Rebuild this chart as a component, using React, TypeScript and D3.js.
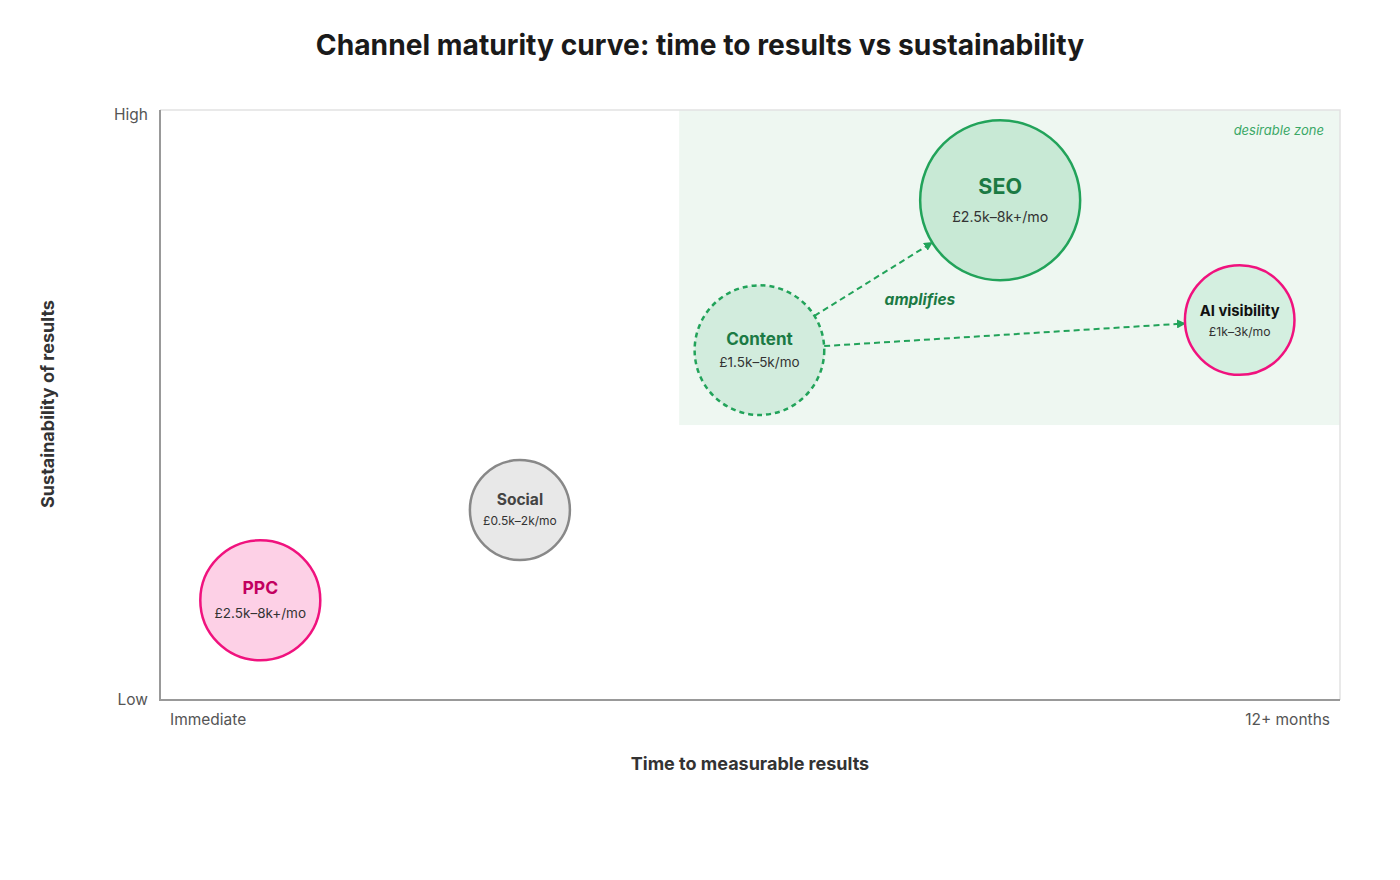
import React, { useEffect, useRef } from 'react';
import * as d3 from 'd3';

const channels = ['PPC', 'Social', 'Content', 'SEO', 'AI visibility'];
const timeToResults = [8.5, 30.5, 50.8, 71.2, 91.5];
const sustainability = [16.9, 32.2, 59.3, 84.7, 64.4];
const bubbleSize = [36, 25, 42, 64, 30];
const budgets = ['£2.5k–8k+/mo', '£0.5k–2k/mo', '£1.5k–5k/mo', '£2.5k–8k+/mo', '£1k–3k/mo'];
const links = [['Content', 'SEO'], ['Content', 'AI visibility']];
const zoneX = [44, 100];
const zoneY = [46.6, 100];
const xTickLabels = ['Immediate', '12+ months'];
const yTickLabels = ['Low', 'High'];

const FONT = 'Inter, "Open Sans", sans-serif';

// per-channel look
const styles: Record<string, any> = {
  PPC: { fill: '#fdd0e6', stroke: '#f0127e', dash: null, title: '#c2005f', tSize: 17.5, sSize: 13.5, tDy: -11, sDy: 14 },
  Social: { fill: '#e8e8e8', stroke: '#888888', dash: null, title: '#444444', tSize: 15.6, sSize: 12, tDy: -9, sDy: 12 },
  Content: { fill: '#d2ecdd', stroke: '#22a35a', dash: '5,4', title: '#1b7a44', tSize: 17, sSize: 13.5, tDy: -10, sDy: 13 },
  SEO: { fill: '#c8e9d5', stroke: '#22a35a', dash: null, title: '#1b7a44', tSize: 21.5, sSize: 14.2, tDy: -12, sDy: 18 },
  'AI visibility': { fill: '#d4efe0', stroke: '#f0127e', dash: null, title: '#111111', tSize: 14.8, sSize: 12.2, tDy: -8, sDy: 13 },
};

export default function App() {
  const svgRef = useRef<SVGSVGElement>(null);

  useEffect(() => {
    if (!svgRef.current) return;
    const width = 1400;
    const height = 880;
    const margin = { top: 110, right: 60, bottom: 180, left: 160 };
    const iw = width - margin.left - margin.right;
    const ih = height - margin.top - margin.bottom;

    const root = d3.select(svgRef.current);
    root.selectAll('*').remove();
    root.attr('width', width).attr('height', height);

    root.append('rect').attr('width', width).attr('height', height).attr('fill', '#ffffff');

    root.append('text')
      .attr('x', 700).attr('y', 47)
      .attr('text-anchor', 'middle').attr('dominant-baseline', 'middle')
      .style('font-family', FONT).style('font-weight', 700).style('font-size', '28.2px')
      .style('fill', '#1a1a1a')
      .text('Channel maturity curve: time to results vs sustainability');

    const defs = root.append('defs');
    defs.append('marker')
      .attr('id', 'arrow')
      .attr('viewBox', '0 0 10 10')
      .attr('refX', 9).attr('refY', 5)
      .attr('markerWidth', 9).attr('markerHeight', 9)
      .attr('markerUnits', 'userSpaceOnUse')
      .attr('orient', 'auto')
      .append('path').attr('d', 'M0,0 L10,5 L0,10 Z').attr('fill', '#22a35a');

    const svg = root.append('g').attr('transform', `translate(${margin.left},${margin.top})`);

    const x = d3.scaleLinear().domain([0, 100]).range([0, iw]);
    const y = d3.scaleLinear().domain([0, 100]).range([ih, 0]);
    const r = d3.scaleSqrt().domain([0, 64]).range([0, 80]);

    // desirable zone
    svg.append('rect')
      .attr('x', x(zoneX[0])).attr('y', y(zoneY[1]))
      .attr('width', x(zoneX[1]) - x(zoneX[0]))
      .attr('height', y(zoneY[0]) - y(zoneY[1]))
      .attr('fill', '#eef7f1');
    svg.append('text')
      .attr('x', x(zoneX[1]) - 16).attr('y', y(zoneY[1]) + 25)
      .attr('text-anchor', 'end')
      .style('font-family', FONT).style('font-style', 'italic').style('font-size', '13px')
      .style('fill', '#3aa866')
      .text('desirable zone');

    // frame
    svg.append('path')
      .attr('d', `M0,0 H${iw} V${ih}`)
      .attr('fill', 'none').attr('stroke', '#e2e2e2').attr('stroke-width', 1.5);
    svg.append('path')
      .attr('d', `M0,0 V${ih} H${iw}`)
      .attr('fill', 'none').attr('stroke', '#999999').attr('stroke-width', 2);

    // end labels
    const tick = (t: string, px: number, py: number, anchor: string) =>
      svg.append('text')
        .attr('x', px).attr('y', py)
        .attr('text-anchor', anchor).attr('dominant-baseline', 'middle')
        .style('font-family', FONT).style('font-size', '15.5px').style('fill', '#555')
        .text(t);
    tick(yTickLabels[0], -12, y(0) + 1, 'end');
    tick(yTickLabels[1], -12, y(100) + 6, 'end');
    tick(xTickLabels[0], x(0) + 10, ih + 21, 'start');
    tick(xTickLabels[1], x(100) - 10, ih + 21, 'end');

    // axis titles
    svg.append('text')
      .attr('x', iw / 2).attr('y', ih + 65)
      .attr('text-anchor', 'middle').attr('dominant-baseline', 'middle')
      .style('font-family', FONT).style('font-weight', 700).style('font-size', '18px')
      .style('fill', '#333')
      .text('Time to measurable results');
    svg.append('text')
      .attr('transform', `translate(${-111},${ih / 2 - 1}) rotate(-90)`)
      .attr('text-anchor', 'middle').attr('dominant-baseline', 'middle')
      .style('font-family', FONT).style('font-weight', 700).style('font-size', '18px')
      .style('fill', '#333')
      .text('Sustainability of results');

    const nodes = channels.map((c, i) => ({
      name: c,
      cx: x(timeToResults[i]),
      cy: y(sustainability[i]),
      r: r(bubbleSize[i]),
      budget: budgets[i],
    }));
    const byName = new Map(nodes.map(n => [n.name, n]));

    // arrows
    links.forEach(([s, t]) => {
      const a = byName.get(s)!;
      const b = byName.get(t)!;
      const dx = b.cx - a.cx;
      const dy = b.cy - a.cy;
      const len = Math.hypot(dx, dy);
      const ux = dx / len;
      const uy = dy / len;
      svg.append('line')
        .attr('x1', a.cx + ux * a.r).attr('y1', a.cy + uy * a.r)
        .attr('x2', b.cx - ux * b.r).attr('y2', b.cy - uy * b.r)
        .attr('stroke', '#22a35a').attr('stroke-width', 2)
        .attr('stroke-dasharray', '6,4')
        .attr('marker-end', 'url(#arrow)');
    });

    svg.append('text')
      .attr('x', x(64.4)).attr('y', y(67.8) + 1)
      .attr('text-anchor', 'middle').attr('dominant-baseline', 'middle')
      .style('font-family', FONT).style('font-weight', 700).style('font-style', 'italic')
      .style('font-size', '15.5px').style('fill', '#1b7a44')
      .text('amplifies');

    // bubbles
    const g = svg.selectAll('g.node')
      .data(nodes)
      .join('g')
      .attr('class', 'node')
      .attr('transform', d => `translate(${d.cx},${d.cy})`);

    g.append('circle')
      .attr('r', d => d.r)
      .attr('fill', d => styles[d.name].fill)
      .attr('stroke', d => styles[d.name].stroke)
      .attr('stroke-width', 2.5)
      .attr('stroke-dasharray', d => styles[d.name].dash);

    g.append('text')
      .attr('y', d => styles[d.name].tDy)
      .attr('text-anchor', 'middle').attr('dominant-baseline', 'middle')
      .style('font-family', FONT).style('font-weight', 700)
      .style('font-size', d => `${styles[d.name].tSize}px`)
      .style('fill', d => styles[d.name].title)
      .text(d => d.name);

    g.append('text')
      .attr('y', d => styles[d.name].sDy)
      .attr('text-anchor', 'middle').attr('dominant-baseline', 'middle')
      .style('font-family', FONT)
      .style('font-size', d => `${styles[d.name].sSize}px`)
      .style('fill', '#333')
      .text(d => d.budget);
  }, []);

  return (
    <svg ref={svgRef} style={{ position: 'absolute', left: 0, top: 0, display: 'block' }} />
  );
}
